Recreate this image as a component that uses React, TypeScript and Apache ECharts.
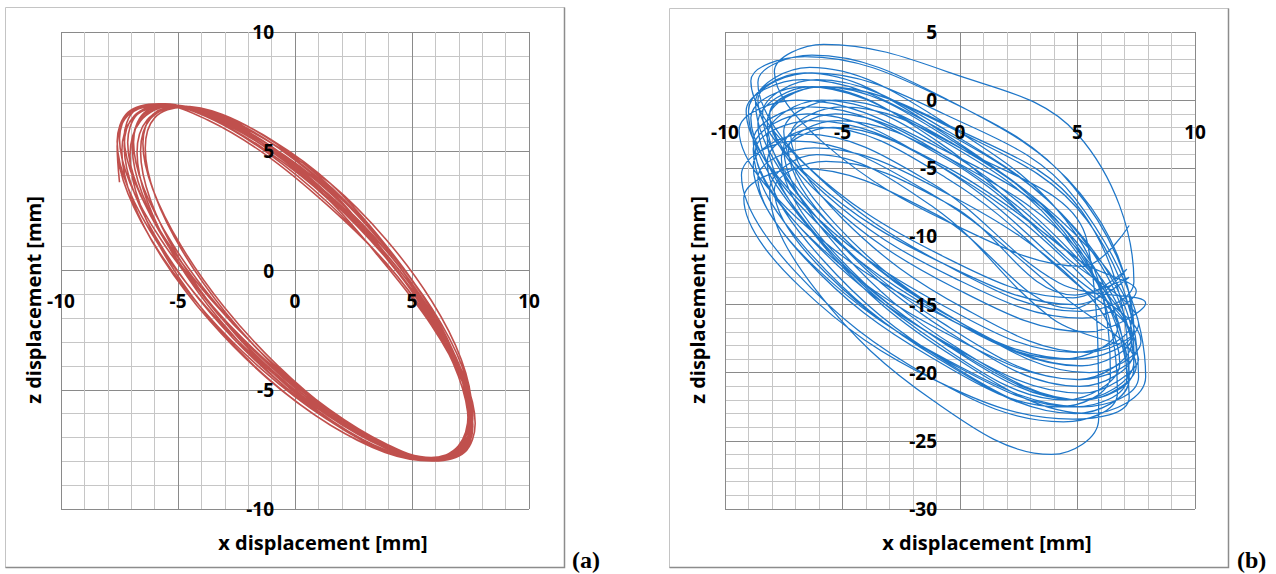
import React, { useEffect, useRef } from "react";
import * as echarts from "echarts";

// ---------- Panel (a): x–z orbit (mm). Each loop: x list and z list ----------
const startA: [number, number][] = [
  [-7.5, 3.7], [-7.6, 5.21], [-7.14, 6.5], [-5.6, 6.95], [-3.6, 6.6], [-1.1, 5.4], [1.52, 3.64],
];
const loopsAx: number[][] = [
  [3.9, 5.84, 7.11, 7.55, 7.11, 5.84, 3.9, 1.52, -1.02, -3.4, -5.34, -6.61, -7.05, -6.61, -5.34, -3.4, -1.02, 1.52],
  [3.9, 5.76, 6.98, 7.4, 6.98, 5.76, 3.9, 1.62, -0.82, -3.1, -4.96, -6.18, -6.6, -6.18, -4.96, -3.1, -0.82, 1.62],
  [3.9, 5.79, 7.02, 7.45, 7.02, 5.79, 3.9, 1.59, -0.89, -3.2, -5.09, -6.32, -6.75, -6.32, -5.09, -3.2, -0.89, 1.59],
  [3.85, 5.85, 7.15, 7.6, 7.15, 5.85, 3.85, 1.41, -1.21, -3.65, -5.65, -6.95, -7.4, -6.95, -5.65, -3.65, -1.21, 1.41],
  [3.8, 5.82, 7.14, 7.6, 7.14, 5.82, 3.8, 1.32, -1.32, -3.8, -5.82, -7.14, -7.6, -7.14, -5.82, -3.8, -1.32, 1.32],
  [3.8, 5.77, 7.06, 7.5, 7.06, 5.77, 3.8, 1.39, -1.19, -3.6, -5.57, -6.86, -7.3, -6.86, -5.57, -3.6, -1.19, 1.39],
  [3.93, 5.85, 7.12, 7.55, 7.12, 5.85, 3.93, 1.56, -0.96, -3.33, -5.25, -6.52, -6.95, -6.52, -5.25, -3.33, -0.96, 1.56],
  [3.95, 5.79, 6.99, 7.4, 6.99, 5.79, 3.95, 1.7, -0.7, -2.95, -4.79, -5.99, -6.4, -5.99, -4.79, -2.95, -0.7, 1.7],
  [3.93, 5.77, 6.98, 7.4, 6.98, 5.77, 3.93, 1.66, -0.76, -3.03, -4.87, -6.08, -6.5, -6.08, -4.87, -3.03, -0.76, 1.66],
  [3.9, 5.82, 7.07, 7.5, 7.07, 5.82, 3.9, 1.55, -0.95, -3.3, -5.22, -6.47, -6.9, -6.47, -5.22, -3.3, -0.95, 1.55],
  [3.88, 5.83, 7.11, 7.55, 7.11, 5.83, 3.88, 1.48, -1.08, -3.48, -5.43, -6.71, -7.15, -6.71, -5.43, -3.48, -1.08, 1.48],
  [3.88, 5.91, 7.24, 7.7, 7.24, 5.91, 3.88, 1.38, -1.28, -3.78, -5.81, -7.14, -7.6, -7.14, -5.81, -3.78, -1.28, 1.38],
  [3.83, 5.83, 7.15, 7.6, 7.15, 5.83, 3.83, 1.36, -1.26, -3.73, -5.73, -7.05, -7.5, -7.05, -5.73, -3.73, -1.26, 1.36],
  [3.88, 5.86, 7.15, 7.6, 7.15, 5.86, 3.88, 1.45, -1.15, -3.58, -5.56, -6.85, -7.3, -6.85, -5.56, -3.58, -1.15, 1.45],
];
const loopsAz: number[][] = [
  [1.29, -1.28, -3.74, -5.82, -7.26, -7.89, -7.61, -6.49, -4.64, -2.29, 0.28, 2.74, 4.82, 6.26, 6.89, 6.61, 5.49, 3.64],
  [1.04, -1.53, -3.97, -6.0, -7.36, -7.89, -7.54, -6.33, -4.42, -2.04, 0.53, 2.97, 5.0, 6.36, 6.89, 6.54, 5.33, 3.42],
  [0.99, -1.58, -4.02, -6.05, -7.41, -7.94, -7.59, -6.38, -4.47, -2.09, 0.48, 2.92, 4.95, 6.31, 6.84, 6.49, 5.28, 3.37],
  [1.0, -1.59, -4.04, -6.09, -7.46, -7.99, -7.63, -6.42, -4.5, -2.1, 0.49, 2.94, 4.99, 6.36, 6.89, 6.53, 5.32, 3.4],
  [0.8, -1.8, -4.23, -6.21, -7.5, -7.95, -7.5, -6.21, -4.23, -1.8, 0.8, 3.23, 5.21, 6.5, 6.95, 6.5, 5.21, 3.23],
  [0.8, -1.8, -4.23, -6.21, -7.5, -7.95, -7.5, -6.21, -4.23, -1.8, 0.8, 3.23, 5.21, 6.5, 6.95, 6.5, 5.21, 3.23],
  [0.79, -1.79, -4.2, -6.17, -7.46, -7.9, -7.46, -6.17, -4.2, -1.79, 0.79, 3.2, 5.17, 6.46, 6.9, 6.46, 5.17, 3.2],
  [0.78, -1.78, -4.18, -6.13, -7.41, -7.85, -7.41, -6.13, -4.18, -1.78, 0.78, 3.18, 5.13, 6.41, 6.85, 6.41, 5.13, 3.18],
  [0.53, -2.04, -4.42, -6.33, -7.54, -7.89, -7.36, -6.0, -3.97, -1.53, 1.04, 3.42, 5.33, 6.54, 6.89, 6.36, 5.0, 2.97],
  [0.58, -1.99, -4.37, -6.28, -7.49, -7.84, -7.31, -5.95, -3.92, -1.48, 1.09, 3.47, 5.38, 6.59, 6.94, 6.41, 5.05, 3.02],
  [0.54, -2.05, -4.45, -6.37, -7.58, -7.94, -7.41, -6.04, -3.99, -1.54, 1.05, 3.45, 5.37, 6.58, 6.94, 6.41, 5.04, 2.99],
  [0.54, -2.06, -4.48, -6.41, -7.63, -7.99, -7.45, -6.07, -4.02, -1.54, 1.06, 3.48, 5.41, 6.63, 6.99, 6.45, 5.07, 3.02],
  [0.28, -2.3, -4.66, -6.53, -7.66, -7.94, -7.31, -5.86, -3.76, -1.28, 1.3, 3.66, 5.53, 6.66, 6.94, 6.31, 4.86, 2.76],
  [0.33, -2.25, -4.61, -6.48, -7.61, -7.89, -7.26, -5.81, -3.71, -1.23, 1.35, 3.71, 5.58, 6.71, 6.99, 6.36, 4.91, 2.81],
];
const endA: [number, number][] = [[3.88, 0.33]];

// ---------- Panel (b): x–z orbit (mm), one row per loop ----------
const loopsB: [number, number][][] = [
  [[7.2, -9.2], [5.2, -12.2], [-0.3, -9.1], [-5.7, -3.3], [-7.9, 2.1], [-5.8, 4.1], [-0.4, 2.0], [5.0, -2.5]],
  [[7.4, -13.3], [5.1, -15.5], [-0.6, -12.1], [-6.3, -5.2], [-8.6, 1.3], [-6.3, 3.3], [-0.6, 0.1], [5.1, -6.8]],
  [[7.3, -16.2], [4.9, -18.5], [-0.9, -14.9], [-6.7, -7.6], [-9.1, -0.8], [-6.7, 1.5], [-0.9, -2.1], [4.9, -9.4]],
  [[7.4, -18.4], [5.1, -21.0], [-0.4, -17.1], [-5.9, -9.0], [-8.2, -1.6], [-5.9, 1.0], [-0.4, -2.9], [5.1, -11.0]],
  [[6.7, -21.5], [4.4, -23.6], [-1.3, -20.3], [-7.0, -12.6], [-9.3, -5.5], [-7.0, -3.0], [-1.3, -6.8], [4.4, -14.4]],
  [[7.5, -19.5], [5.3, -22.0], [0.0, -18.3], [-5.3, -10.6], [-7.5, -3.5], [-5.3, -1.0], [0.0, -4.8], [5.3, -12.4]],
  [[7.3, -17.8], [5.0, -20.5], [-0.7, -16.4], [-6.4, -8.0], [-8.7, -0.2], [-6.4, 2.4], [-0.7, -1.6], [5.0, -10.0]],
  [[6.4, -20.2], [4.2, -22.5], [-1.2, -18.9], [-6.6, -11.6], [-8.8, -4.8], [-6.6, -2.5], [-1.2, -6.1], [4.2, -13.4]],
  [[7.9, -14.9], [5.4, -17.0], [-0.2, -13.8], [-5.8, -7.2], [-8.1, -1.1], [-5.8, 1.0], [-0.2, -2.2], [5.4, -8.8]],
  [[7.6, -20.3], [5.2, -22.5], [-0.5, -19.1], [-6.2, -12.2], [-8.6, -5.7], [-6.2, -3.5], [-0.5, -6.9], [5.2, -13.8]],
  [[6.8, -19.3], [4.5, -22.0], [-0.9, -17.9], [-6.3, -9.5], [-8.6, -1.7], [-6.3, 1.0], [-0.9, -3.1], [4.5, -11.5]],
  [[7.6, -16.4], [5.4, -18.5], [0.2, -15.3], [-5.0, -8.7], [-7.2, -2.6], [-5.0, -0.5], [0.2, -3.7], [5.4, -10.3]],
  [[5.9, -23.4], [3.9, -26.0], [-1.1, -22.1], [-6.1, -14.0], [-8.1, -6.6], [-6.1, -4.0], [-1.1, -7.9], [3.9, -16.0]],
  [[7.6, -19.0], [5.2, -21.5], [-0.6, -17.8], [-6.4, -10.1], [-8.8, -3.0], [-6.4, -0.5], [-0.6, -4.3], [5.2, -11.9]],
  [[7.5, -14.0], [5.2, -16.0], [-0.3, -13.0], [-5.8, -6.8], [-8.1, -1.0], [-5.8, 1.0], [-0.3, -2.0], [5.2, -8.2]],
  [[7.2, -20.4], [4.9, -23.0], [-0.8, -19.1], [-6.5, -11.0], [-8.8, -3.6], [-6.5, -1.0], [-0.8, -4.9], [4.9, -13.0]],
  [[7.7, -17.7], [5.5, -20.0], [0.1, -16.4], [-5.3, -9.1], [-7.5, -2.3], [-5.3, 0.0], [0.1, -3.6], [5.5, -10.9]],
  [[7.4, -16.8], [4.9, -19.0], [-1.0, -15.6], [-6.9, -8.7], [-9.4, -2.2], [-6.9, 0.0], [-1.0, -3.4], [4.9, -10.3]],
  [[7.1, -20.4], [4.9, -22.5], [-0.4, -19.3], [-5.7, -12.7], [-7.9, -6.6], [-5.7, -4.5], [-0.4, -7.7], [4.9, -14.3]],
  [[7.2, -13.0], [4.9, -15.0], [-0.7, -12.0], [-6.3, -5.8], [-8.6, 0.0], [-6.3, 2.0], [-0.7, -1.0], [4.9, -7.2]],
  [[7.9, -20.3], [5.5, -23.0], [-0.2, -18.9], [-5.9, -10.5], [-8.2, -2.7], [-5.9, 0.0], [-0.2, -4.1], [5.5, -12.5]],
  [[6.7, -16.7], [4.4, -19.0], [-1.1, -15.4], [-6.6, -8.1], [-8.9, -1.3], [-6.6, 1.0], [-1.1, -2.6], [4.4, -9.9]],
  [[7.2, -20.5], [4.9, -23.0], [-0.5, -19.3], [-5.9, -11.6], [-8.2, -4.5], [-5.9, -2.0], [-0.5, -5.8], [4.9, -13.4]],
  [[7.3, -17.4], [5.2, -19.5], [0.0, -16.3], [-5.2, -9.7], [-7.3, -3.6], [-5.2, -1.5], [0.0, -4.7], [5.2, -11.3]],
  [[7.4, -19.2], [5.0, -22.0], [-0.8, -17.7], [-6.6, -9.0], [-9.0, -0.8], [-6.6, 2.0], [-0.8, -2.3], [5.0, -11.0]],
  [[7.2, -21.8], [4.8, -23.4], [-1.0, -20.6], [-6.8, -13.7], [-9.2, -7.2], [-6.8, -5.0], [-1.0, -8.4], [4.8, -15.3]],
  [[7.1, -12.4], [4.8, -14.5], [-0.9, -11.3], [-6.6, -4.7], [-8.9, 1.4], [-6.6, 3.2], [-0.9, 0.3], [4.8, -6.3]],
  [[7.4, -17.0], [5.1, -19.5], [-0.5, -15.8], [-6.1, -8.1], [-8.4, -1.0], [-6.1, 1.5], [-0.5, -2.3], [5.1, -9.9]],
  [[7.4, -19.7], [5.2, -22.0], [-0.1, -18.4], [-5.4, -11.1], [-7.6, -4.3], [-5.4, -2.0], [-0.1, -5.6], [5.2, -12.9]],
  [[7.5, -18.3], [5.1, -20.5], [-0.6, -17.1], [-6.3, -10.2], [-8.7, -3.7], [-6.3, -1.5], [-0.6, -4.9], [5.1, -11.8]],
];

// ---------- Axes ----------
const xRangeA = [-10, 10];
const zRangeA = [-10, 10];
const xRangeB = [-10, 10];
const zRangeB = [-30, 5];
const tickStep = 5;

const xTitle = "x displacement [mm]";
const zTitle = "z displacement [mm]";
const panelLabels = ["(a)", "(b)"];

const colorA = "#c0504d";
const colorB = "#1f77c9";
const FONT = "'Open Sans', 'DejaVu Sans', sans-serif";

// plot-area layout (px)
const gridA = { left: 61, top: 32, width: 468, height: 477 };
const gridB = { left: 725, top: 32, width: 470, height: 477 };

function gridAxis(gridIndex: number, range: number[], dim: "x" | "y") {
  return {
    type: "value",
    gridIndex,
    min: range[0],
    max: range[1],
    interval: tickStep,
    position: dim === "x" ? "bottom" : "left",
    z: 0,
    axisLine: { show: false, onZero: false },
    axisTick: { show: false },
    axisLabel: { show: false },
    splitLine: { show: true, lineStyle: { color: "#8a8a8a", width: 1 } },
    minorTick: { show: false, splitNumber: 5 },
    minorSplitLine: { show: true, lineStyle: { color: "#c6c6c6", width: 1 } },
  };
}

// axis that carries the tick labels, crossing the other axis at 0
function labelAxis(
  gridIndex: number,
  range: number[],
  dim: "x" | "y",
  margin: number,
  offset: number
) {
  return {
    type: "value",
    gridIndex,
    min: range[0],
    max: range[1],
    interval: tickStep,
    position: dim === "x" ? "bottom" : "left",
    offset,
    z: 10,
    axisLine: { show: false, onZero: false },
    axisTick: { show: false },
    splitLine: { show: false },
    axisLabel: {
      show: true,
      margin,
      color: "#000",
      fontFamily: FONT,
      fontWeight: "bold",
      fontSize: 19,
      showMinLabel: true,
      showMaxLabel: true,
    },
  };
}

function zeroOffset(range: number[], sizePx: number) {
  return -(sizePx * (0 - range[0])) / (range[1] - range[0]);
}

function titleText(x: number, y: number, text: string, rotation = 0) {
  return {
    type: "text",
    x,
    y,
    rotation,
    z: 20,
    style: {
      text,
      fill: "#000",
      font: `bold 20px ${FONT}`,
      align: "center",
      verticalAlign: "middle",
      textAlign: "center",
      textVerticalAlign: "middle",
    },
  };
}

function panelText(x: number, y: number, text: string) {
  return {
    type: "text",
    x,
    y,
    z: 20,
    style: {
      text,
      fill: "#000",
      font: "bold 24px 'Liberation Serif', serif",
      align: "left",
      verticalAlign: "middle",
      textAlign: "left",
      textVerticalAlign: "middle",
    },
  };
}

function frame(x0: number, y0: number, x1: number, y1: number) {
  return [
    {
      type: "rect",
      z: 1,
      shape: { x: x0 + 0.5, y: y0 + 0.5, width: x1 - x0, height: y1 - y0 },
      style: { fill: "none", stroke: "#c4c4c4", lineWidth: 1 },
    },
    {
      type: "polyline",
      z: 1,
      shape: { points: [[x1 + 0.5, y0 + 0.5], [x1 + 0.5, y1 + 0.5], [x0 + 0.5, y1 + 0.5]] },
      style: { fill: "none", stroke: "#8c8c8c", lineWidth: 1.5 },
    },
  ];
}

export default function App() {
  const ref = useRef<HTMLDivElement>(null);
  useEffect(() => {
    if (!ref.current) return;
    const chart = echarts.init(ref.current, undefined, { renderer: "svg" });
    const dataA: [number, number][] = [...startA];
    loopsAx.forEach((xs, i) => xs.forEach((x, j) => dataA.push([x, loopsAz[i][j]])));
    dataA.push(...endA);
    const dataB = loopsB.flat();
    chart.setOption({
      animation: false,
      backgroundColor: "#ffffff",
      grid: [gridA, gridB],
      xAxis: [
        gridAxis(0, xRangeA, "x"),
        labelAxis(0, xRangeA, "x", 21, zeroOffset(zRangeA, gridA.height)),
        gridAxis(1, xRangeB, "x"),
        labelAxis(1, xRangeB, "x", 22, zeroOffset(zRangeB, gridB.height)),
      ],
      yAxis: [
        gridAxis(0, zRangeA, "y"),
        labelAxis(0, zRangeA, "y", 21, zeroOffset(xRangeA, gridA.width)),
        gridAxis(1, zRangeB, "y"),
        labelAxis(1, zRangeB, "y", 23, zeroOffset(xRangeB, gridB.width)),
      ],
      series: [
        {
          type: "line",
          name: "a",
          xAxisIndex: 0,
          yAxisIndex: 0,
          data: dataA,
          showSymbol: false,
          smooth: 0.35,
          silent: true,
          z: 2,
          lineStyle: { color: colorA, width: 1.6 },
          itemStyle: { color: colorA },
        },
        {
          type: "line",
          name: "b",
          xAxisIndex: 2,
          yAxisIndex: 2,
          data: dataB,
          showSymbol: false,
          smooth: 0.38,
          silent: true,
          z: 2,
          lineStyle: { color: colorB, width: 1.25 },
          itemStyle: { color: colorB },
        },
      ],
      graphic: [
        ...frame(5, 7, 564, 567),
        ...frame(669, 8, 1228, 567),
        titleText(323, 542, xTitle),
        titleText(987, 542, xTitle),
        titleText(33, 300, zTitle, Math.PI / 2),
        titleText(697, 300, zTitle, Math.PI / 2),
        panelText(572, 560, panelLabels[0]),
        panelText(1237, 560, panelLabels[1]),
      ],
    });
    return () => chart.dispose();
  }, []);
  return (
    <div
      ref={ref}
      style={{ position: "absolute", left: 0, top: 0, width: 1276, height: 574 }}
    />
  );
}
